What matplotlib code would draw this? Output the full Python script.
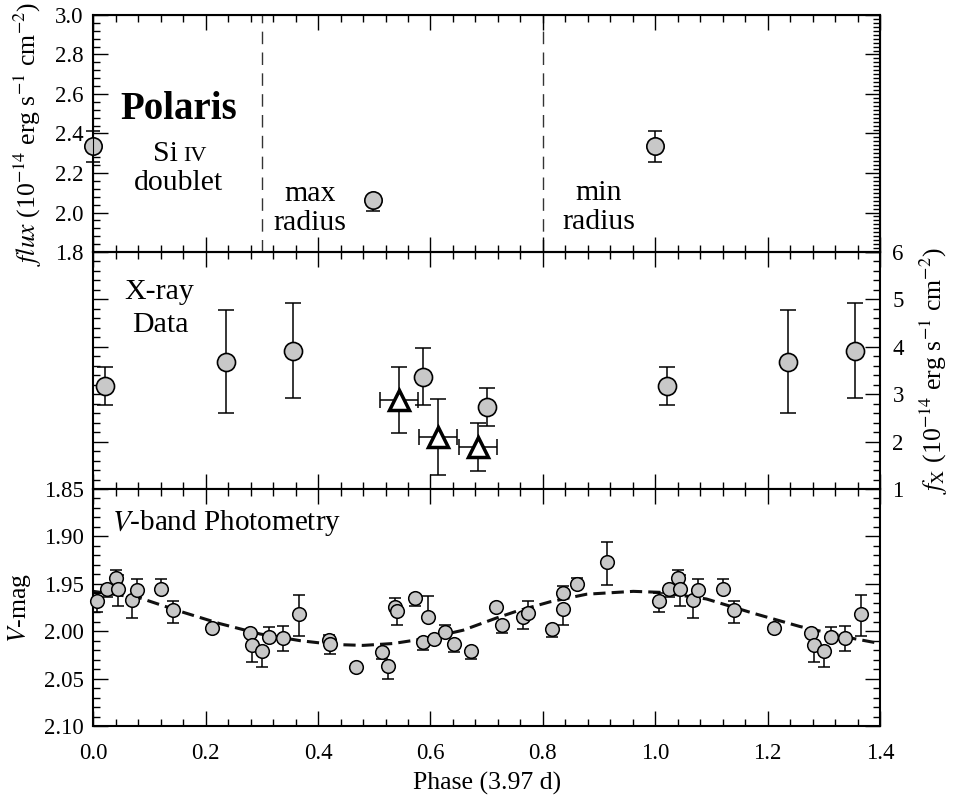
import numpy as np
import matplotlib
matplotlib.use("Agg")
from matplotlib import pyplot as plt
from matplotlib.ticker import MultipleLocator, FormatStrFormatter

plt.rcParams['font.family'] = ['Liberation Serif', 'DejaVu Serif']
plt.rcParams['mathtext.fontset'] = 'stix'

# Si IV doublet flux (top panel)
siiv_phase = [0.0, 0.498]
siiv_flux = [2.335, 2.064]
siiv_err_lo = [0.08, 0.054]
siiv_err_hi = [0.08, 0.02]

# X-ray fluxes, circles
xray_phase = [0.021, 0.237, 0.355, 0.586, 0.700]
xray_flux = [3.18, 3.69, 3.92, 3.37, 2.74]
xray_err = [0.40, 1.08, 1.00, 0.60, 0.40]

# X-ray fluxes, triangles (with phase bins)
xtri_phase = [0.544, 0.614, 0.685]
xtri_flux = [2.88, 2.09, 1.89]
xtri_err = [0.70, 0.80, 0.50]
xtri_phase_err = [0.034, 0.034, 0.034]

# V-band photometry
vmag_phase = [0.007, 0.025, 0.040, 0.044, 0.068, 0.077, 0.120, 0.141, 0.211, 0.278,
              0.283, 0.301, 0.313, 0.338, 0.366, 0.420, 0.421, 0.467, 0.513, 0.525,
              0.537, 0.541, 0.572, 0.596, 0.587, 0.606, 0.626, 0.642, 0.673, 0.717,
              0.727, 0.765, 0.774, 0.816, 0.835, 0.836, 0.860, 0.914]
vmag = [1.968, 1.956, 1.944, 1.955, 1.967, 1.957, 1.956, 1.978, 1.997, 2.002,
        2.015, 2.021, 2.006, 2.007, 1.982, 2.009, 2.014, 2.038, 2.022, 2.037,
        1.975, 1.979, 1.965, 1.985, 2.011, 2.008, 2.001, 2.013, 2.021, 1.974,
        1.994, 1.985, 1.981, 1.998, 1.960, 1.977, 1.950, 1.927]
# error towards brighter (up on the plot) and fainter (down on the plot)
vmag_err_up = [0.008, 0.003, 0.008, 0.014, 0.003, 0.012, 0.011, 0.010, 0.004, 0.003,
               0.003, 0.003, 0.010, 0.012, 0.020, 0.005, 0.003, 0.003, 0.003, 0.003,
               0.010, 0.003, 0.003, 0.022, 0.003, 0.003, 0.008, 0.003, 0.003, 0.003,
               0.003, 0.003, 0.013, 0.003, 0.008, 0.003, 0.006, 0.021]
vmag_err_dn = [0.012, 0.008, 0.003, 0.018, 0.019, 0.004, 0.004, 0.013, 0.004, 0.003,
               0.017, 0.017, 0.003, 0.014, 0.023, 0.003, 0.010, 0.003, 0.007, 0.013,
               0.003, 0.014, 0.008, 0.003, 0.009, 0.003, 0.003, 0.009, 0.008, 0.003,
               0.008, 0.013, 0.003, 0.008, 0.003, 0.017, 0.003, 0.024]

# fitted light curve (dashed)
fit_phase = [0.0, 0.083, 0.154, 0.225, 0.297, 0.368, 0.427, 0.480, 0.534, 0.599,
             0.658, 0.718, 0.753, 0.813, 0.878, 0.961, 1.008, 1.091, 1.174, 1.257,
             1.346, 1.4]
fit_vmag = [1.958, 1.965, 1.979, 1.992, 2.003, 2.010, 2.014, 2.015, 2.013, 2.007,
            1.999, 1.986, 1.979, 1.969, 1.961, 1.958, 1.959, 1.966, 1.981, 1.995,
            2.007, 2.013]

PHASE_MAX = 1.4
fill_gray = '#c8c8c8'


def repeat_cycle(phase, *cols):
    # plot each observation again one cycle later if it still falls in the window
    p = np.asarray(phase, dtype=float)
    m = p + 1.0 <= PHASE_MAX
    out = [np.concatenate([p, p[m] + 1.0])]
    for c in cols:
        c = np.asarray(c, dtype=float)
        out.append(np.concatenate([c, c[m]]))
    return out


def style_axis(ax):
    ax.set_xlim(0, PHASE_MAX)
    ax.xaxis.set_major_locator(MultipleLocator(0.2))
    ax.xaxis.set_minor_locator(MultipleLocator(0.04))
    ax.tick_params(which='both', direction='in', top=True, bottom=True,
                   width=1.0, labelsize=16.5)
    ax.tick_params(which='major', length=11)
    ax.tick_params(which='minor', length=5)
    ax.tick_params(axis='x', pad=12)
    ax.tick_params(axis='y', pad=7)
    for s in ax.spines.values():
        s.set_linewidth(1.5)


fig = plt.figure(figsize=(9.65, 7.97), dpi=100)
left, width = 0.0967, 0.8152
h = 0.2974
ax1 = fig.add_axes([left, 0.6838, width, h])
ax2 = fig.add_axes([left, 0.3864, width, h])
ax3 = fig.add_axes([left, 0.0891, width, h])

# ---------------- top panel: Si IV ----------------
style_axis(ax1)
ax1.set_ylim(1.8, 3.0)
ax1.yaxis.set_major_locator(MultipleLocator(0.2))
ax1.yaxis.set_minor_locator(MultipleLocator(0.04))
ax1.yaxis.set_major_formatter(FormatStrFormatter('%.1f'))
ax1.tick_params(labelbottom=False, right=False)
ax1r = ax1.twinx()
ax1r.set_ylim(1.8, 3.0)
ax1r.yaxis.set_major_locator(MultipleLocator(0.2))
ax1r.yaxis.set_minor_locator(MultipleLocator(0.02))
ax1r.tick_params(which='both', direction='in', labelright=False, width=1.0)
ax1r.tick_params(which='major', length=11)
ax1r.tick_params(which='minor', length=5)

sp, sf, slo, shi = repeat_cycle(siiv_phase, siiv_flux, siiv_err_lo, siiv_err_hi)
ax1.errorbar(sp, sf, yerr=[slo, shi], fmt='none', ecolor='k', elinewidth=1.1,
             capsize=5, capthick=1.1, zorder=2, clip_on=False)
ax1.plot(sp, sf, 'o', ms=12.5, mfc=fill_gray, mec='k', mew=1.2, zorder=3, clip_on=False)
for xv in (0.3, 0.8):
    ax1.axvline(xv, color='#333333', lw=1.0, ls=(0, (9, 6)), zorder=1)

ax1.text(0.152, 2.52, 'Polaris', fontsize=28, fontweight='bold', ha='center', va='center')
ax1.text(0.150, 2.262, 'Si', fontsize=21.5, ha='right', va='baseline')
ax1.text(0.160, 2.262, 'IV', fontsize=16, ha='left', va='baseline')
ax1.text(0.152, 2.15, 'doublet', fontsize=21.5, ha='center', va='center')
ax1.text(0.385, 2.02, 'max\nradius', fontsize=21.5, ha='center', va='center', linespacing=1.15)
ax1.text(0.900, 2.025, 'min\nradius', fontsize=21.5, ha='center', va='center', linespacing=1.15)
ax1.set_ylabel(r'$\it{flux}$ (10$^{-14}$ erg s$^{-1}$ cm$^{-2}$)', fontsize=18.5, labelpad=8)

# ---------------- middle panel: X-ray ----------------
style_axis(ax2)
ax2.set_ylim(1, 6)
ax2.yaxis.set_major_locator(MultipleLocator(1))
ax2.yaxis.set_minor_locator(MultipleLocator(0.2))
ax2.tick_params(which='both', left=True, right=True, labelleft=False,
                labelright=True, labelbottom=False)
ax2.tick_params(axis='y', pad=9)
ax2.yaxis.set_label_position('right')
ax2.set_ylabel(r'$f_{\rm X}$ (10$^{-14}$ erg s$^{-1}$ cm$^{-2}$)', fontsize=18.5, labelpad=10)

xp, xf, xe = repeat_cycle(xray_phase, xray_flux, xray_err)
ax2.errorbar(xp, xf, yerr=xe, fmt='none', ecolor='k', elinewidth=1.1,
             capsize=5.5, capthick=1.1, zorder=2)
ax2.plot(xp, xf, 'o', ms=13, mfc=fill_gray, mec='k', mew=1.2, zorder=3)

tp, tf, te, tpe = repeat_cycle(xtri_phase, xtri_flux, xtri_err, xtri_phase_err)
ax2.errorbar(tp, tf, yerr=te, xerr=tpe, fmt='none', ecolor='k', elinewidth=1.1,
             capsize=5.5, capthick=1.1, zorder=2)
ax2.plot(tp, tf, '^', ms=14, mfc='white', mec='k', mew=2.5, zorder=3)

ax2.text(0.118, 5.16, 'X-ray', fontsize=21.5, ha='center', va='center')
ax2.text(0.119, 4.46, 'Data', fontsize=21.5, ha='center', va='center')

# ---------------- bottom panel: V-band ----------------
style_axis(ax3)
ax3.set_ylim(2.10, 1.85)
ax3.yaxis.set_major_locator(MultipleLocator(0.05))
ax3.yaxis.set_minor_locator(MultipleLocator(0.01))
ax3.yaxis.set_major_formatter(FormatStrFormatter('%.2f'))
ax3.xaxis.set_major_formatter(FormatStrFormatter('%.1f'))
ax3.tick_params(which='both', left=True, right=True)

vp, vm, vup, vdn = repeat_cycle(vmag_phase, vmag, vmag_err_up, vmag_err_dn)
ax3.plot(fit_phase, fit_vmag, color='#111111', lw=2.2, ls=(0, (4, 2)), zorder=2)
ax3.errorbar(vp, vm, yerr=[vup, vdn], fmt='none', ecolor='k', elinewidth=1.1,
             capsize=4.5, capthick=1.1, zorder=2)
ax3.plot(vp, vm, 'o', ms=9.8, mfc=fill_gray, mec='k', mew=1.1, zorder=3, clip_on=False)

ax3.text(0.033, 1.886, r'$V$-band Photometry', fontsize=21, ha='left', va='center')
ax3.set_ylabel(r'$V$-mag', fontsize=18.5, labelpad=8)
ax3.set_xlabel('Phase (3.97 d)', fontsize=18.5, labelpad=6)

fig.savefig('out.png', dpi=100)
